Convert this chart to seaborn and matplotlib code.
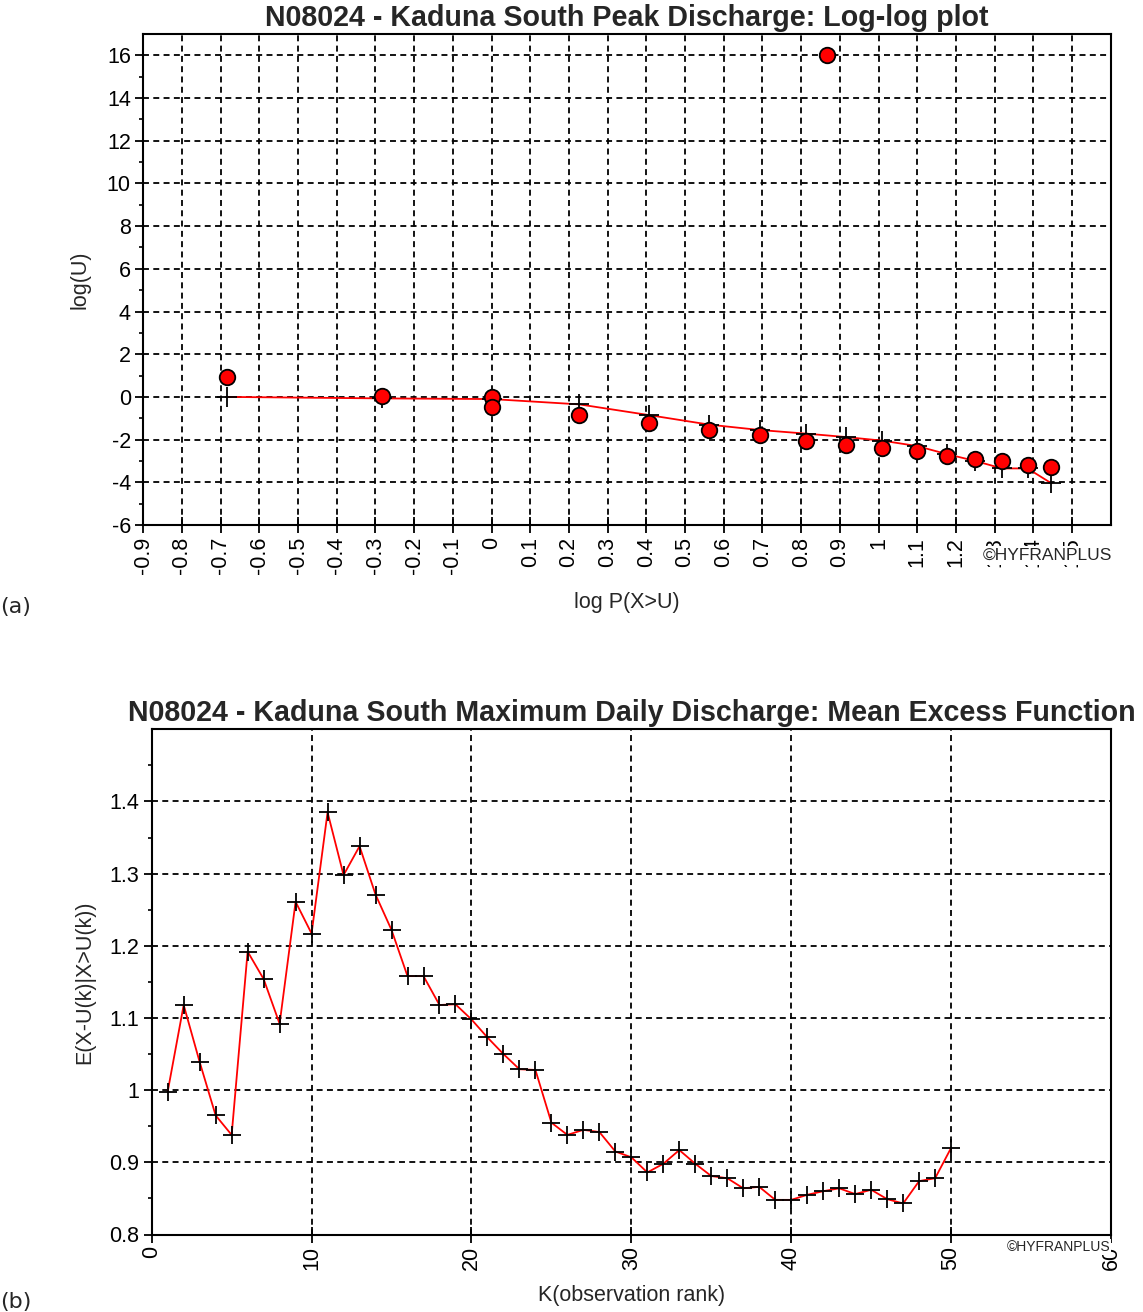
import numpy as np
import pandas as pd
import matplotlib
matplotlib.use("Agg")
import matplotlib.pyplot as plt
import seaborn as sns

# ---------------- Panel (a): log-log plot ----------------
obs_logp = [-0.683, -0.283, 0.0, 0.0, 0.227, 0.406, 0.563, 0.693, 0.813, 0.866,
            0.916, 1.010, 1.099, 1.177, 1.250, 1.319, 1.385, 1.447]
obs_logu = [0.91, 0.05, 0.0, -0.47, -0.87, -1.22, -1.55, -1.79, -2.08, 16.0,
            -2.24, -2.40, -2.55, -2.76, -2.92, -3.00, -3.20, -3.26]
fit_logp = [-0.683, -0.283, 0.0, 0.227, 0.406, 0.563, 0.693, 0.813, 0.916,
            1.010, 1.099, 1.177, 1.250, 1.319, 1.385, 1.447]
fit_logu = [0.0, -0.07, -0.10, -0.35, -0.85, -1.30, -1.55, -1.72, -1.88,
            -2.05, -2.30, -2.68, -3.00, -3.35, -3.35, -4.05]
top_xtick_labels = ["-0.9", "-0.8", "-0.7", "-0.6", "-0.5", "-0.4", "-0.3", "-0.2", "-0.1",
                    "0", "0.1", "0.2", "0.3", "0.4", "0.5", "0.6", "0.7", "0.8", "0.9",
                    "1", "1.1", "1.2", "1.3", "1.4", "1.5"]
top_ytick_labels = ["-6", "-4", "-2", "0", "2", "4", "6", "8", "10", "12", "14", "16"]

# ---------------- Panel (b): mean excess function ----------------
rank_k = list(range(1, 51))
mean_excess = [0.998, 1.118, 1.039, 0.965, 0.938, 1.192, 1.154, 1.092, 1.261, 1.217,
               1.385, 1.298, 1.338, 1.271, 1.222, 1.158, 1.158, 1.118, 1.119, 1.098,
               1.073, 1.050, 1.029, 1.028, 0.955, 0.938, 0.945, 0.942, 0.915, 0.907,
               0.886, 0.898, 0.917, 0.898, 0.881, 0.878, 0.864, 0.866, 0.848, 0.848,
               0.855, 0.860, 0.864, 0.856, 0.862, 0.849, 0.843, 0.874, 0.878, 0.920]
bot_xtick_labels = ["0", "10", "20", "30", "40", "50", "60"]
bot_ytick_labels = ["0.8", "0.9", "1", "1.1", "1.2", "1.3", "1.4"]

sns.set_theme(style="white")
plt.rcParams["font.family"] = ["Liberation Sans", "DejaVu Sans"]

W, H = 1143, 1312
fig = plt.figure(figsize=(W / 100, H / 100), dpi=100)
fig.patch.set_facecolor("white")


def px_axes(left, top, right, bottom):
    return fig.add_axes([left / W, 1 - bottom / H, (right - left) / W, (bottom - top) / H])


ax1 = px_axes(143.3, 34, 1110.7, 525)
ax2 = px_axes(151.7, 729.3, 1111, 1234.5)

grid_kw = dict(color="black", linestyle=(0, (3.3, 2.4)), linewidth=1.3)
tick_font = 15.5
label_font = 15.5

# ---- top ----
df_fit = pd.DataFrame({"x": fit_logp, "y": fit_logu})
df_obs = pd.DataFrame({"x": obs_logp, "y": obs_logu})
sns.lineplot(data=df_fit, x="x", y="y", ax=ax1, sort=False, estimator=None,
             color="red", linewidth=1.3, marker="+", markersize=14,
             markeredgecolor="black", markeredgewidth=1.3, zorder=3)
sns.scatterplot(data=df_obs, x="x", y="y", ax=ax1, color="red", edgecolor="black",
                s=125, linewidth=1.3, zorder=4)

top_xticks = [float(t) for t in top_xtick_labels]
top_yticks = [float(t) for t in top_ytick_labels]
ax1.set_xlim(-0.9, 1.6)
ax1.set_ylim(-6, 17)
ax1.set_xticks(top_xticks)
ax1.set_xticklabels(top_xtick_labels, rotation=90, fontsize=tick_font)
ax1.set_yticks(top_yticks)
ax1.set_yticklabels(top_ytick_labels, fontsize=tick_font)
ax1.set_yticks(np.arange(-5, 17, 2), minor=True)
ax1.set_title("N08024 - Kaduna South Peak Discharge: Log-log plot",
              fontsize=20.6, fontweight="bold", pad=6)
ax1.set_xlabel("log P(X>U)", fontsize=label_font)
ax1.set_ylabel("log(U)", fontsize=label_font)
ax1.xaxis.set_label_coords(0.5, -0.136)
ax1.yaxis.set_label_coords(-0.055, 0.5)

# ---- bottom ----
df_mef = pd.DataFrame({"k": rank_k, "e": mean_excess})
sns.lineplot(data=df_mef, x="k", y="e", ax=ax2, sort=False, estimator=None,
             color="red", linewidth=1.3, marker="+", markersize=13,
             markeredgecolor="black", markeredgewidth=1.3, zorder=3)
bot_xticks = [float(t) for t in bot_xtick_labels]
bot_yticks = [float(t) for t in bot_ytick_labels]
ax2.set_xlim(0, 60)
ax2.set_ylim(0.8, 1.5)
ax2.set_xticks(bot_xticks)
ax2.set_xticklabels(bot_xtick_labels, rotation=90, fontsize=tick_font)
ax2.set_yticks(bot_yticks)
ax2.set_yticklabels(bot_ytick_labels, fontsize=tick_font)
ax2.set_yticks(np.arange(0.85, 1.5, 0.1), minor=True)
ax2.set_title("N08024 - Kaduna South Maximum Daily Discharge: Mean Excess Function",
              fontsize=20.6, fontweight="bold", pad=6)
ax2.set_xlabel("K(observation rank)", fontsize=label_font)
ax2.set_ylabel("E(X-U(k)|X>U(k))", fontsize=label_font)
ax2.xaxis.set_label_coords(0.5, -0.1)
ax2.yaxis.set_label_coords(-0.059, 0.5)

for ax in (ax1, ax2):
    ax.grid(True, which="major", **grid_kw)
    ax.set_axisbelow(True)
    for sp in ax.spines.values():
        sp.set_color("black")
        sp.set_linewidth(1.5)
        sp.set_visible(True)
    ax.tick_params(axis="x", which="major", direction="inout", length=11, width=1.3,
                   colors="black", pad=3, bottom=True)
    ax.tick_params(axis="y", which="major", direction="out", length=6, width=1.3,
                   colors="black", pad=3, left=True)
    ax.tick_params(axis="y", which="minor", direction="out", length=3, width=1.2,
                   colors="black", left=True)
    ax.set_facecolor("white")

# watermark texts
fig.text(1112 / W, 1 - 548 / H, "\u00a9HYFRANPLUS", ha="right", va="top", fontsize=12.5,
         bbox=dict(facecolor="white", edgecolor="none", pad=1.5), zorder=10)
fig.text(1110 / W, 1 - 1240 / H, "\u00a9HYFRANPLUS", ha="right", va="top", fontsize=10,
         bbox=dict(facecolor="white", edgecolor="none", pad=1.0), zorder=10)

fig.text(0.0, 1 - 607 / H, "(a)", ha="left", va="center", fontsize=16, family="DejaVu Sans")
fig.text(0.0, 1 - 1302 / H, "(b)", ha="left", va="center", fontsize=16, family="DejaVu Sans")

fig.savefig("out.png", dpi=100, facecolor="white")
